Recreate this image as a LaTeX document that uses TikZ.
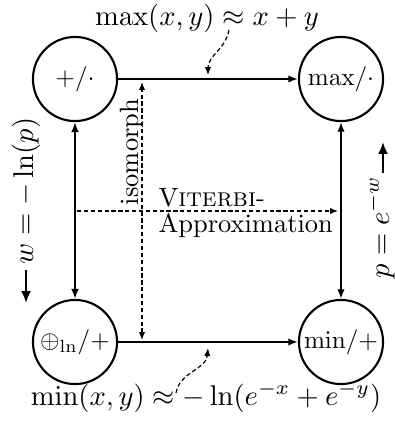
\documentclass[tikz,border=0pt]{standalone}
\usetikzlibrary{arrows.meta}
\begin{document}
\begin{tikzpicture}[x=0.378pt,y=-0.378pt,
  op/.style={circle, draw, line width=0.8pt, minimum size=31.8pt, inner sep=0pt},
  optext/.style={inner sep=0pt, scale=0.95},
  mainarrow/.style={line width=0.8pt, -{Latex[length=3.6pt,width=2.8pt]}},
  vertarrow/.style={line width=0.8pt, {Latex[length=3.6pt,width=2.8pt]}-{Latex[length=3.6pt,width=2.8pt]}},
  thickarrow/.style={line width=1.1pt, {Latex[length=3.8pt,width=3pt]}-{Latex[length=3.8pt,width=3pt]}},
  dasharrow/.style={line width=0.45pt, dash pattern=on 1.6pt off 1pt, -{Latex[length=3pt,width=2.4pt]}},
  dashboth/.style={line width=0.45pt, dash pattern=on 1.6pt off 1pt, {Latex[length=3pt,width=2.4pt]}-{Latex[length=3pt,width=2.4pt]}},
  sidearrow/.style={line width=0.8pt, -{Latex[length=4.5pt,width=3.8pt]}},
  lab/.style={inner sep=0pt, scale=1.08},
  txt/.style={inner sep=0pt}]
\useasboundingbox (0,0) rectangle (394,423);
% operator circles
\node[op] (tl) at (75,79) {};
\node[op] (tr) at (341,79) {};
\node[op] (bl) at (75,342) {};
\node[op] (br) at (341,342) {};
\node[optext] (tlt) at (tl) {$+/\cdot$};
\node[optext] (trt) at (tr) {$\mathrm{max}/\cdot$};
\node[optext] (blt) at (bl) {$\oplus_{\ln}/+$};
\node[optext] (brt) at (br) {$\mathrm{min}/+$};
% main connectors
\draw[mainarrow] (tl) -- (tr);
\draw[mainarrow] (bl) -- (br);
\draw[thickarrow] (tl) -- (bl);
\draw[vertarrow] (tr) -- (br);
% isomorph
\coordinate (iso1) at (142,82);
\coordinate (iso2) at (142,340);
\draw[dashboth] (iso2) -- (iso1);
\node[txt, rotate=90, anchor=base] (iso) at (138,152) {isomorph};
% Viterbi approximation
\coordinate (vit1) at (77,211);
\coordinate (vit2) at (338,211);
\draw[dasharrow] (vit1) -- (vit2);
\node[txt, anchor=base west] (vit) at (158,206) {V\textsc{iterbi}-};
\node[txt, anchor=base west] (appr) at (158,232) {Approximation};
% top and bottom labels
\node[lab, anchor=base] (maxlab) at (207,25) {$\max(x,y)\approx x+y$};
\node[lab, anchor=base] (minlab) at (206,405) {$\min(x,y)\approx -\ln(e^{-x}+e^{-y})$};
\coordinate (c1s) at (229,30);
\coordinate (c1e) at (208,75);
\draw[dasharrow] (c1s) to[out=-100,in=90] (c1e);
\coordinate (c2s) at (176,393);
\coordinate (c2e) at (208,348);
\draw[dasharrow] (c2s) to[out=80,in=-95] (c2e);
% side labels
\node[lab, rotate=90, anchor=base] (wlab) at (33,191) {$w=-\ln(p)$};
\coordinate (wa1) at (26,270);
\coordinate (wa2) at (26,303);
\draw[sidearrow] (wa1) -- (wa2);
\node[lab, rotate=90, anchor=base] (plab) at (389,227) {$p=e^{-w}$};
\coordinate (pa1) at (383,173);
\coordinate (pa2) at (383,142);
\draw[sidearrow] (pa1) -- (pa2);
\end{tikzpicture}
\end{document}
